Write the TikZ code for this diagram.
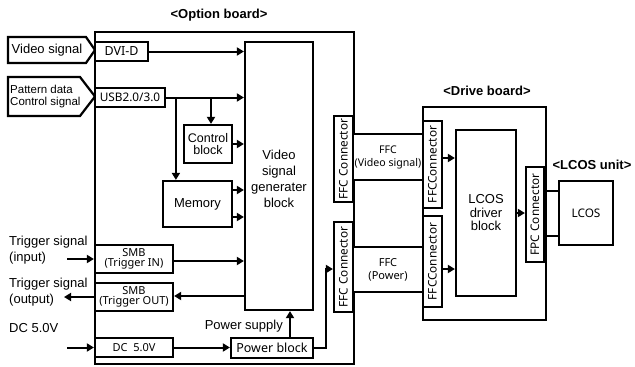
\documentclass[tikz,border=0pt]{standalone}
\usepackage{fontspec}
\setmainfont{Liberation Sans}
\newfontfamily\hum{Noto Sans}
\usetikzlibrary{arrows.meta,calc}
\begin{document}
\begin{tikzpicture}[x=1pt,y=-1pt,
  box/.style={draw,line width=2.2pt,inner sep=0pt,align=center,fill=white},
  board/.style={draw,line width=2.1pt,inner sep=0pt},
  conn/.style={line width=2pt},
  arr/.style={conn,-{Triangle[length=7pt,width=8pt]}},
  ttl/.style={font=\bfseries\fontsize{13}{14}\selectfont,inner sep=0pt},
  ar/.style={font=\fontsize{13}{15}\selectfont},
  hm/.style={font=\hum\fontsize{11.8}{12}\selectfont},
  hms/.style={font=\hum\fontsize{11}{10.5}\selectfont},
]
\useasboundingbox (0,0) rectangle (635,367);

% boards
\node[board,minimum width=259pt,minimum height=332pt] (opt) at (224.5,198) {};
\node[board,minimum width=123pt,minimum height=213pt] (drive) at (484.5,213.5) {};
\node[ttl] (optt) at (219,15) {<Option board>};
\node[ttl] (drivet) at (487,91) {<Drive board>};
\node[ttl] (lcost) at (592,165) {<LCOS unit>};

% input labels (arrow shaped)
\draw[line width=2.2pt,fill=white] (8,37) -- (86,37) -- (95,50) -- (86,63) -- (8,63) -- cycle;
\node[ar,inner sep=0pt] (vsig) at (47,50) {Video signal};
\draw[line width=2.2pt,fill=white] (8,77) -- (80,77) -- (95,96.5) -- (80,116) -- (8,116) -- cycle;
\node[font=\fontsize{11.5}{12}\selectfont,align=left,anchor=west,inner sep=0pt] (pdat) at (10,97) {Pattern data\\Control signal};

% option board blocks
\node[box,minimum width=68pt,minimum height=268pt,font=\fontsize{13}{16}\selectfont] (vgb) at (279,176) {\\[-1pt]Video\\signal\\generater\\block};
\node[box,hm,font=\hum\fontsize{12.5}{12}\selectfont,minimum width=53pt,minimum height=19pt] (dvi) at (121.5,51.5) {DVI-D};
\node[box,hm,minimum width=70pt,minimum height=19pt] (usb) at (130,97.5) {USB2.0/3.0};
\node[box,font=\fontsize{12.5}{12.5}\selectfont,minimum width=48pt,minimum height=38pt] (ctrl) at (208,144) {Control\\block};
\node[box,ar,minimum width=69pt,minimum height=46pt] (mem) at (197.5,204) {Memory};
\node[box,hms,minimum width=78pt,minimum height=28pt] (smbin) at (134,259) {SMB\\(Trigger IN)};
\node[box,hms,minimum width=78pt,minimum height=28pt] (smbout) at (134,297) {SMB\\(Trigger OUT)};
\node[box,font=\hum\fontsize{11}{11}\selectfont,minimum width=78pt,minimum height=19pt] (dcbox) at (134,347.5) {DC\ \ 5.0V};
\node[box,font=\hum\fontsize{12.5}{12}\selectfont,minimum width=82pt,minimum height=20pt] (pwr) at (272,348) {Power block};
\node[box,minimum width=19pt,minimum height=86pt] (ffc1) at (343.5,159) {};
\node[hm,rotate=90] at (ffc1) {FFC Connector};
\node[box,minimum width=19pt,minimum height=90pt] (ffc2) at (343.5,267) {};
\node[hm,rotate=90] at (ffc2) {FFC Connector};

% cables
\node[box,font=\hum\fontsize{10.6}{13}\selectfont,minimum width=70pt,minimum height=46pt] (cabv) at (388,157) {FFC\\(Video signal)};
\node[box,font=\hum\fontsize{11}{13}\selectfont,minimum width=70pt,minimum height=45pt] (cabp) at (388,269.5) {FFC\\(Power)};

% drive board blocks
\node[box,minimum width=19pt,minimum height=87pt] (dffc1) at (432.5,164.5) {};
\node[hm,rotate=90] at (dffc1) {FFCConnector};
\node[box,minimum width=19pt,minimum height=91pt] (dffc2) at (432.5,261.5) {};
\node[hm,rotate=90] at (dffc2) {FFCConnector};
\node[box,font=\fontsize{13}{13.5}\selectfont,minimum width=60pt,minimum height=166pt] (drv) at (486,213) {LCOS\\driver\\block};
\node[box,minimum width=18pt,minimum height=95pt] (fpc) at (535,214.5) {};
\node[hm,rotate=90] at (fpc) {FPC Connector};
\node[box,hm,minimum width=54pt,minimum height=64pt] (lcos) at (586,213) {LCOS};

% left side labels
\node[align=left,anchor=west,inner sep=0pt,font=\fontsize{13}{16}\selectfont] (tinl) at (9,250) {Trigger signal\\(input)};
\node[align=left,anchor=west,inner sep=0pt,font=\fontsize{13}{16}\selectfont] (toutl) at (9,292) {Trigger signal\\(output)};
\node[ar,anchor=west,inner sep=0pt] (dcl) at (9,328) {DC 5.0V};
\node[ar,anchor=east,inner sep=0pt] (psl) at (283,326) {Power supply};

% connectors
\coordinate (tin) at (67,259);
\coordinate (tout) at (64,297);
\coordinate (dcin) at (67,347.5);
\draw[arr] (tin) -- (smbin.west |- tin);
\draw[arr] (smbout.west) -- (tout);
\draw[arr] (dcin) -- (dcbox.west);

\draw[arr] (dvi.east) -- (vgb.west |- dvi.east);
\draw[arr] (usb.east) -- (vgb.west |- usb.east);
\draw[arr] ([xshift=3pt]ctrl.north |- usb.east) -- ([xshift=3pt]ctrl.north);
\draw[arr] ([xshift=14pt]mem.north west |- usb.east) -- ([xshift=14pt]mem.north west);
\draw[arr] (ctrl.east) -- (vgb.west |- ctrl.east);
\draw[arr] (mem.east |- 0,190) -- (vgb.west |- 0,190);
\draw[arr] (mem.east |- 0,217) -- (vgb.west |- 0,217);
\draw[arr] (smbin.east |- 0,261) -- (vgb.west |- 0,261);
\draw[arr] (vgb.west |- 0,296) -- (smbout.east |- 0,296);
\draw[arr] (dcbox.east) -- (pwr.west |- dcbox.east);
\draw[arr] ([xshift=18pt]pwr.north) -- ([xshift=18pt]pwr.north |- vgb.south);
\coordinate (pj) at (326,269);
\draw[arr] (pwr.east) -| (pj) -- (ffc2.west |- pj);

\draw[arr] (dffc1.east |- 0,158) -- (drv.west |- 0,158);
\draw[arr] (dffc2.east |- 0,269) -- (drv.west |- 0,269);
\draw[arr] (drv.east) -- (fpc.west |- drv.east);
\draw[conn] (fpc.east |- 0,191) -- (lcos.west |- 0,191);
\draw[conn] (fpc.east |- 0,236) -- (lcos.west |- 0,236);
\end{tikzpicture}
\end{document}
